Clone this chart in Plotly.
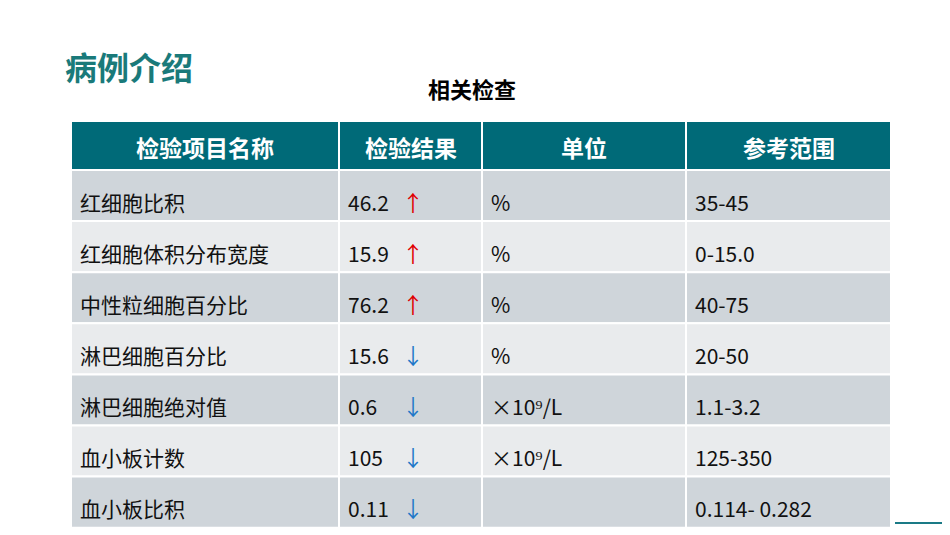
import plotly.graph_objects as go

headers = ["检验项目名称", "检验结果", "单位", "参考范围"]
items = ["红细胞比积", "红细胞体积分布宽度", "中性粒细胞百分比", "淋巴细胞百分比", "淋巴细胞绝对值", "血小板计数", "血小板比积"]
values = ["46.2", "15.9", "76.2", "15.6", "0.6", "105", "0.11"]
direction = ["up", "up", "up", "down", "down", "down", "down"]
units = ["%", "%", "%", "%", "×10⁹/L", "×10⁹/L", ""]
ranges = ["35-45", "0-15.0", "40-75", "20-50", "1.1-3.2", "125-350", "0.114- 0.282"]

col_edges = [63, 331, 474, 678, 883]
header_top, header_bot = 113, 162
row_h = 51.1
FONT = "Noto Sans CJK SC"

fig = go.Figure()
fig.add_trace(go.Scatter(x=[0, 950], y=[0, 535], mode="markers", marker=dict(opacity=0), hoverinfo="skip", showlegend=False))

# header
for i, h in enumerate(headers):
    x0, x1 = col_edges[i], col_edges[i + 1]
    fig.add_shape(type="rect", x0=x0, x1=x1, y0=header_top, y1=header_bot,
                  fillcolor="#006a78", line=dict(color="white", width=2))
    fig.add_annotation(x=(x0 + x1) / 2, y=(header_top + header_bot) / 2 + 1, text="<b>%s</b>" % h,
                       showarrow=False, xanchor="center", yanchor="middle",
                       font=dict(size=23, color="white", family=FONT))

columns = [items, values, units, ranges]
for r in range(len(items)):
    y0 = header_bot + r * row_h
    y1 = y0 + row_h
    fill = "#cfd5da" if r % 2 == 0 else "#e9ebed"
    for c in range(4):
        fig.add_shape(type="rect", x0=col_edges[c], x1=col_edges[c + 1], y0=y0, y1=y1,
                      fillcolor=fill, line=dict(color="white", width=2))
        txt = columns[c][r]
        if txt:
            fig.add_annotation(x=col_edges[c] + 7, y=(y0 + y1) / 2 + 6, text=txt, showarrow=False,
                               xanchor="left", yanchor="middle",
                               font=dict(size=21, color="#111111", family=FONT))
    up = direction[r] == "up"
    fig.add_annotation(x=405, y=(y0 + y1) / 2 + 5, text="↑" if up else "↓", showarrow=False,
                       xanchor="center", yanchor="middle",
                       font=dict(size=22, color="#e00000" if up else "#1e78c8", family=FONT))

fig.add_annotation(x=55, y=58, text="<b>病例介绍</b>", showarrow=False, xanchor="left", yanchor="middle",
                   font=dict(size=32, color="#1a7a7a", family=FONT))
fig.add_annotation(x=464, y=80, text="<b>相关检查</b>", showarrow=False, xanchor="center", yanchor="middle",
                   font=dict(size=22, color="black", family=FONT))
fig.add_shape(type="line", x0=887, x1=950, y0=515, y1=515, line=dict(color="#1a7a86", width=2))

fig.update_xaxes(range=[0, 950], visible=False, fixedrange=True)
fig.update_yaxes(range=[535, 0], visible=False, fixedrange=True)
fig.update_layout(width=950, height=535, margin=dict(l=0, r=0, t=0, b=0),
                  paper_bgcolor="white", plot_bgcolor="white")
fig.write_html("out.html")
